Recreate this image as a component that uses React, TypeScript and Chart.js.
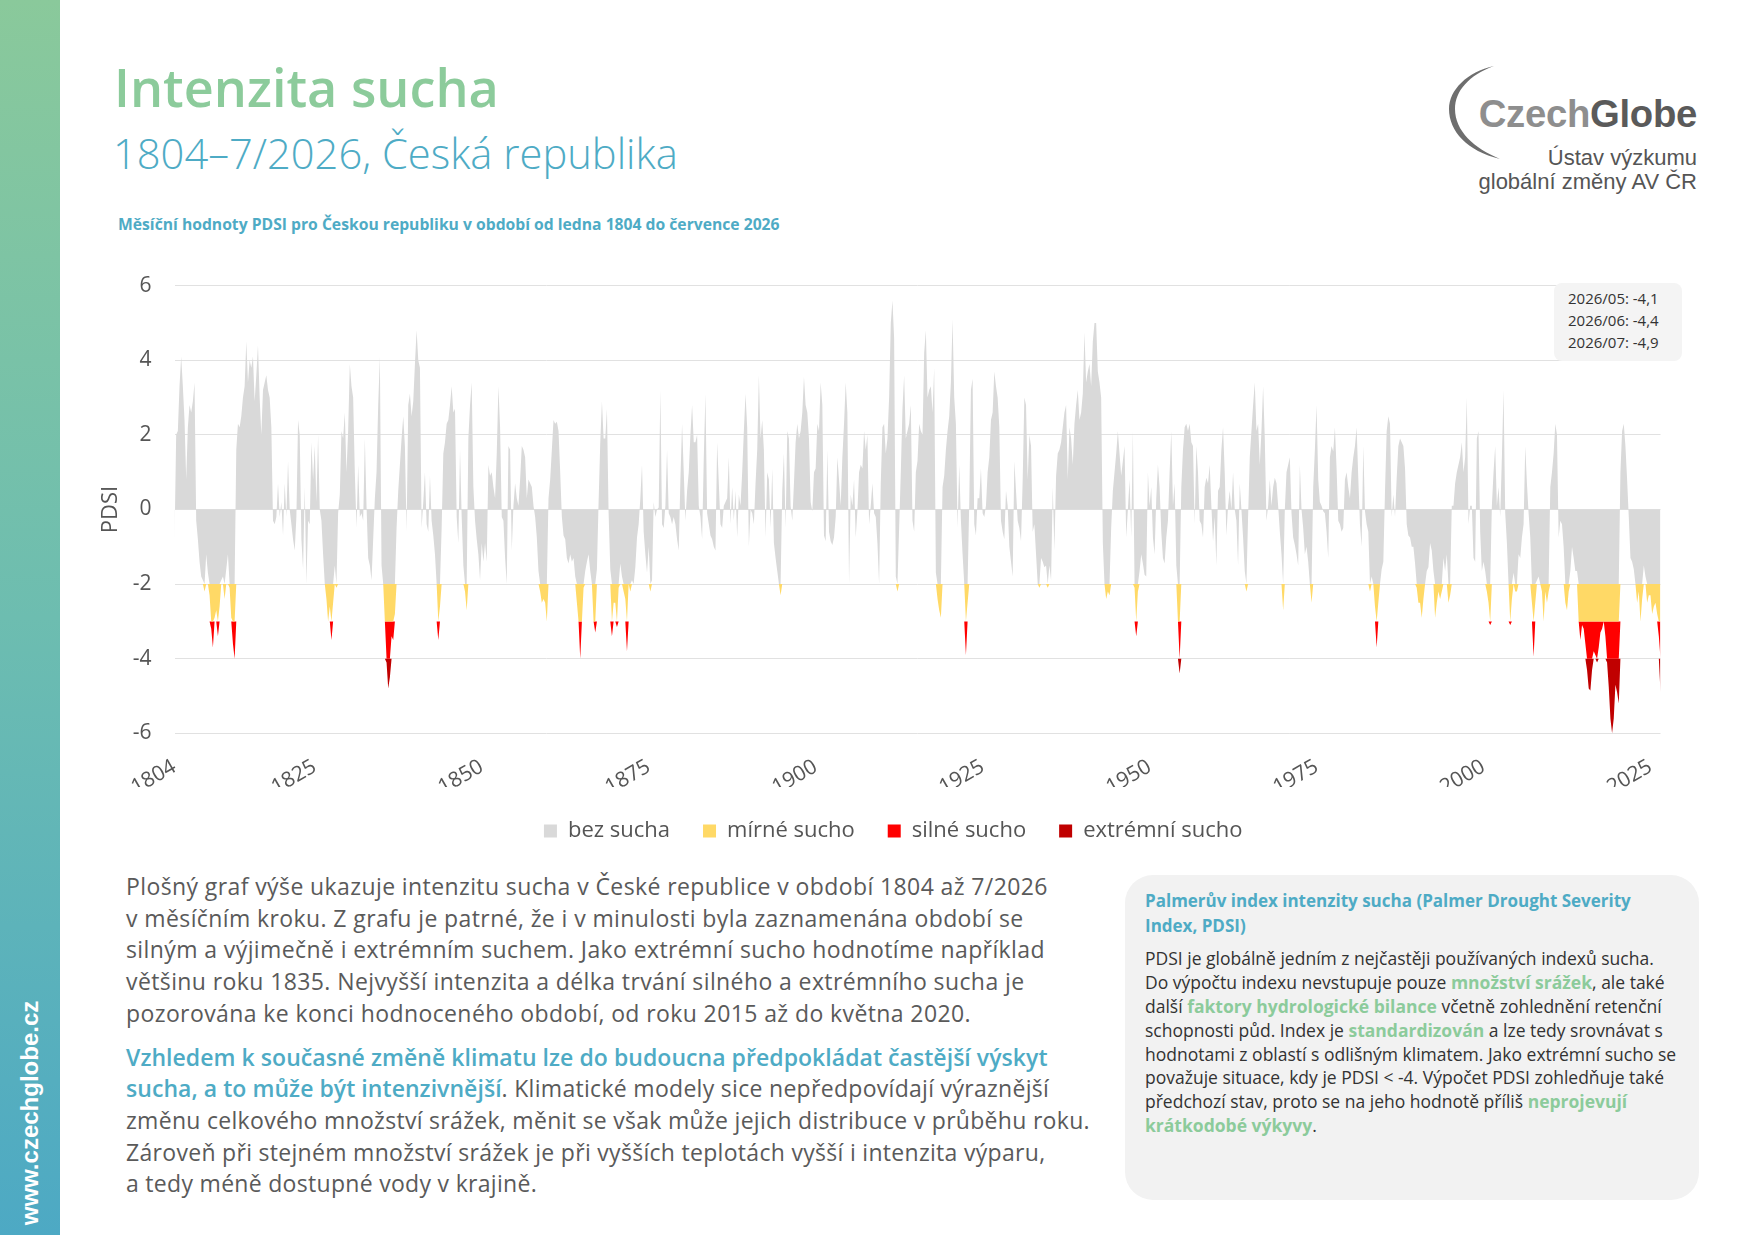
import React, { useEffect, useRef } from 'react';
import { Chart, registerables } from 'chart.js';

Chart.register(...registerables);

// PDSI values, one value per quarter (Jan, Apr, Jul, Oct), Jan 1804 – Jul 2026
const pdsi1804to1869 = [
  -0.9, 2.0, 2.1, 3.3,
  4.1, 3.3, 2.4, 0.8,
  2.2, 2.8, 2.6, 2.9,
  3.4, -0.3, -0.8, -1.4,
  -1.8, -1.9, -2.2, -1.2,
  -1.7, -2.3, -3.2, -3.7,
  -2.9, -2.7, -3.4, -2.6,
  -1.9, -1.8, -2.4, -1.6,
  -1.2, -2.1, -2.9, -3.6,
  -4.0, 1.6, 2.3, 2.2,
  2.5, 3.0, 3.3, 4.5,
  3.4, 4.0, 3.8, 4.1,
  2.9, 3.6, 4.4, 3.0,
  2.0, 3.2, 3.4, 3.6,
  3.2, 3.0, 2.2, -0.3,
  -0.4, -0.2, 0.7, -0.2,
  0.2, -0.7, 0.7, -0.2,
  1.3, 0.0, -0.4, -0.8,
  -1.1, -0.2, 2.4, 2.0,
  -0.8, -1.6, 0.6, -2.0,
  -0.3, -0.4, 1.8, 0.8,
  1.7, 0.2, 2.0, 0.0,
  -0.3, -1.2, -2.0, -2.4,
  -3.0, -2.6, -3.5, -2.5,
  -1.5, -2.1, -0.1, 0.4,
  2.1, 1.9, 2.6, 1.0,
  2.1, 3.9, 3.3, 3.0,
  1.0, -0.5, 1.2, -0.2,
  -0.1, -0.3, 1.9, 0.1,
  -1.3, -1.5, -1.9, -0.8,
  0.3, 1.0, 2.8, 4.1,
  -1.5, -2.0, -3.0, -4.1,
  -4.8, -4.5, -3.4, -3.5,
  -2.8, -0.5, 0.5, 1.2,
  1.9, 2.5, 1.7, -0.6,
  2.8, 3.1, 2.5, 2.9,
  3.9, 4.8, 4.0, 3.8,
  -0.5, 0.2, 1.0, -0.4,
  -0.6, 0.9, -0.3, -0.7,
  -1.2, -2.0, -3.5, -2.6,
  -0.5, 1.5, 1.8, 2.3,
  2.4, 2.8, 3.3, 2.6,
  2.7, -0.2, -0.9, 1.6,
  -0.2, -1.5, -2.2, -2.7,
  1.9, 2.8, 3.4, 0.6,
  -0.3, -0.8, -1.2, -1.9,
  -0.9, -1.4, -0.9, -1.4,
  1.2, 0.9, 1.0, 0.6,
  0.3, 1.5, 3.3, 2.2,
  -0.2, -0.3, -1.3, -2.0,
  1.7, 1.6, -1.1, 0.1,
  0.7, 0.3, 0.1, 0.8,
  1.7, 1.6, 1.4, 0.3,
  0.8, 0.7, 0.6, 0.1,
  -0.2, -0.75, -1.65, -2.2,
  -2.5, -2.4, -2.5, -3.0,
  0.3, 0.8, 1.6, 2.4,
  2.3, 2.35, 2.1, 1.0,
  -0.2, -0.7, -0.8, -1.3,
  -1.45, -1.2, -1.4, -1.3,
  -1.8, -2.5, -3.0, -4.0,
  -3.0, -2.1, -1.65, -1.4,
  -1.2, -1.65, -2.0, -3.0,
  -3.3, -1.6, 0.2, 1.8,
  2.9, 1.9, 1.9, 2.7,
  -0.1, -1.6, -3.4, -2.5,
];

const pdsi1870to1939 = [
  -2.5, -3.15, -2.1, -1.45,
  -1.8, -2.2, -2.4, -3.8,
  -2.0, -2.2, -1.9, -2.0,
  -1.55, -0.75, -0.4, 0.3,
  1.2, -0.6, -1.2, -1.7,
  -1.0, -2.2, -1.9, 0.2,
  -0.2, 0.0, 0.05, 3.2,
  -0.4, -0.5, 0.1, 1.6,
  -0.1, -0.2, -0.4, -0.2,
  -0.4, -0.8, -1.1, 0.8,
  2.3, 1.0, -0.3, 0.5,
  1.0, 2.0, 2.8, 1.8,
  1.8, 2.0, 0.1, -0.2,
  -0.8, 1.4, 3.1, -0.1,
  -0.4, -0.7, -0.8, -1.0,
  -1.1, 1.8, 0.7, -0.4,
  -0.5, 0.1, 0.2, 0.3,
  1.4, -0.4, 0.6, -0.3,
  0.5, -0.75, 0.4, 0.1,
  1.0, 2.1, 3.1, 2.2,
  -1.0, 0.0, -0.1, -0.4,
  0.7, 1.6, 3.6, 1.9,
  2.4, 1.6, -0.75, 1.0,
  0.8, -0.5, 1.1, -0.9,
  -1.3, -1.65, -2.0, -2.3,
  0.5, 1.5, -0.5, 2.1,
  1.9, 0.1, -0.3, 0.7,
  1.8, 2.3, 1.9, 2.1,
  2.6, 3.55, 2.8, 2.6,
  1.9, 0.2, -0.05, 1.0,
  1.1, 2.3, 2.1, 3.4,
  2.8, -0.7, -0.85, 1.6,
  -0.6, -0.85, -0.95, -0.75,
  -0.2, 1.4, 0.8, 0.1,
  1.4, 2.3, 3.4, 2.6,
  -2.0, 0.4, 0.1, 0.8,
  -0.75, -0.05, 1.0, 1.2,
  1.1, 2.1, 1.6, 2.0,
  -0.4, 0.1, 0.7, -0.1,
  -0.2, -0.9, -2.0, 0.7,
  2.2, 2.3, 1.5, 1.9,
  3.0, 5.0, 5.6, 4.6,
  -1.8, -2.2, -0.5, 1.0,
  2.7, 3.6, 1.9, 2.1,
  2.3, 2.8, -0.3, -0.6,
  1.0, 1.3, 2.3, 2.1,
  2.0, 4.2, 4.8, 3.0,
  3.2, 3.3, 2.6, 3.8,
  -1.7, -2.4, -2.7, -2.9,
  0.6, 0.9, 1.6, 2.1,
  2.5, 3.4, 5.1, 3.0,
  2.3, -0.5, 1.2, -0.3,
  -1.2, -2.0, -3.9, -2.5,
  0.2, 3.2, 3.5, -0.4,
  -0.7, 0.3, 0.3, 1.1,
  -0.1, -0.2, 0.1, 1.0,
  1.4, 2.4, 2.6, 3.7,
  3.3, 3.0, 2.2, -0.3,
  -0.6, -0.8, 0.5, 0.1,
  -1.0, -1.4, -1.8, 1.3,
  0.5, -0.3, -0.5, -0.85,
  0.8, 3.0, 2.8, 0.8,
  2.0, 1.7, -0.6, -0.4,
  -1.2, -2.0, -2.1, -1.3,
  -1.4, -1.55, -1.5, -2.1,
  -1.5, -1.9, 0.6, -1.1,
  0.9, 1.5, 1.6, 1.8,
  2.2, 2.6, 2.8, 0.8,
  2.2, 1.9, 1.2, 2.3,
  2.8, 3.2, 2.4, 2.6,
];

const pdsi1940to2026 = [
  3.1, 4.75, 3.4, 3.7,
  3.9, 3.3, 4.5, 5.0,
  5.0, 3.7, 3.4, 3.0,
  -0.9, -2.0, -2.4, -2.2,
  -2.3, -0.5, 0.5, 1.0,
  1.5, 2.1, 1.5, 0.9,
  1.3, 1.7, -0.75, 0.0,
  0.8, -0.75, 2.1, -2.1,
  -3.4, -2.2, -1.65, -1.2,
  -1.45, -1.75, -1.8, 1.0,
  0.1, 0.6, -0.75, -1.2,
  0.3, 1.2, 0.6, -0.6,
  -1.3, -1.45, -0.75, -0.3,
  1.0, 2.1, 0.1, 0.7,
  -1.5, -3.0, -4.4, 0.6,
  1.6, 2.2, 2.3, 2.1,
  2.3, 1.8, 1.7, -0.4,
  1.7, 1.0, -0.3, -0.4,
  -0.75, 0.6, 0.85, 0.7,
  1.2, 0.1, -0.85, -0.2,
  -1.5, 0.5, 0.6, 1.6,
  2.2, 1.0, -0.7, 0.1,
  0.5, 0.0, 1.0, 0.0,
  -0.3, -1.5, 0.7, 0.0,
  -0.75, -1.65, -2.2, -0.2,
  1.4, 2.1, 2.8, 3.4,
  2.1, 2.3, 1.2, 2.1,
  3.3, 1.9, -0.3, 0.1,
  0.8, 0.1, 0.6, 0.85,
  0.7, 0.1, -0.6, -1.2,
  -2.7, 0.0, 1.0, 1.2,
  1.4, -0.1, -0.75, -0.95,
  -1.2, -1.5, 1.2, 0.0,
  -0.5, -1.2, -1.0, -1.4,
  -2.0, -2.5, 0.6, 1.6,
  2.8, 0.8, 0.2, 0.1,
  -0.05, -0.1, -0.6, -1.3,
  1.4, 1.7, 1.55, 2.2,
  1.1, -0.3, -0.4, -0.6,
  -0.5, 0.8, 1.0, 0.6,
  0.3, 1.0, 1.4, 1.7,
  2.2, 0.85, -0.4, -1.0,
  1.7, -0.05, -0.4, -0.6,
  -2.2, -1.8, -2.0, -2.6,
  -3.7, -2.5, -2.0, -1.6,
  -1.4, 0.5, 2.1, 2.5,
  2.3, -0.2, 0.4, -0.2,
  0.85, 1.7, 1.9, 1.8,
  1.7, 1.1, -0.4, -0.7,
  -0.75, -1.0, -1.0, -1.45,
  -2.1, -2.5, -2.5, -2.9,
  -2.4, -2.0, -1.65, -1.55,
  -0.9, -1.1, -1.65, -2.9,
  -2.5, -2.2, -2.4, -2.2,
  -1.3, -1.65, -1.2, -2.5,
  -2.3, 0.1, 0.1, 0.7,
  1.0, 1.2, 1.4, 1.8,
  1.0, 1.4, 3.0, -0.4,
  0.1, 0.1, -1.3, -1.4,
  1.9, 2.1, -0.6, -1.65,
  -1.4, -1.65, -2.2, -2.5,
  -3.1, 0.1, 1.0, 1.7,
  0.1, 0.6, -0.2, 1.4,
  3.2, -0.1, -0.9, -2.0,
  -3.1, -2.4, -1.7, -2.2,
  -2.2, -1.2, -1.3, -0.75,
  -0.4, 1.7, 0.7, -0.1,
  -0.75, -2.5, -3.95, -2.5,
  -1.9, -1.8, -2.0, -2.2,
  -3.0, -2.2, -2.5, -2.2,
  0.6, 1.0, 1.5, 2.3,
  2.0, -0.75, -0.3, -0.4,
  -1.0, -2.5, -2.7, -2.2,
  -1.65, -1.0, -1.3, -1.65,
  -1.65, -3.0, -3.5, -3.1,
  -3.2, -3.6, -4.3, -4.8,
  -4.85, -4.3, -3.8, -3.9,
  -4.1, -3.7, -3.3, -3.2,
  -3.0, -3.4, -4.1, -4.75,
  -5.6, -6.0, -5.6, -4.7,
  -4.9, -5.2, 1.0, 2.1,
  2.3, 1.7, 0.8, -0.2,
  -1.3, -1.4, -1.6, -2.0,
  -2.5, -2.2, -3.0, -2.4,
  -1.5, -1.8, -2.5, -2.3,
  -2.3, -2.8, -2.6, -2.5,
  -2.8, -3.4, -4.9,
];

const START_YEAR = 1804;
const MONTH_STEP = 3;
const LAST_MONTH = (2026 - START_YEAR) * 12 + 6; // July 2026

const xTickYears = [1804, 1825, 1850, 1875, 1900, 1925, 1950, 1975, 2000, 2025];
const yMin = -6;
const yMax = 6;
const yStep = 2;

const classLabels = ['bez sucha', 'mírné sucho', 'silné sucho', 'extrémní sucho'];
const classColors = ['#d9d9d9', '#ffd966', '#ff0000', '#c00000'];
const classThresholds = [-2, -3, -4];

const latestMonths = ['2026/05', '2026/06', '2026/07'];
const latestValues = [-4.1, -4.4, -4.9];

const FONT = "'Open Sans', 'Noto Sans', sans-serif";
const TEAL = '#4eabc5';
const GREEN = '#8ccb9b';
const GREY_TEXT = '#5a5a5a';

// canvas geometry (page px)
const CANVAS_LEFT = 80;
const CANVAS_TOP = 250;
const CANVAS_W = 1620;
const CANVAS_H = 602;
const PAD_LEFT = 46;

function PdsiChart() {
  const canvasRef = useRef<HTMLCanvasElement | null>(null);

  useEffect(() => {
    const values = [...pdsi1804to1869, ...pdsi1870to1939, ...pdsi1940to2026];
    const datasets = classLabels.map((label, k) => {
      const upper = k === 0 ? Infinity : classThresholds[k - 1];
      const lower = k < classThresholds.length ? classThresholds[k] : -Infinity;
      const base = k === 0 ? 0 : classThresholds[k - 1];
      return {
        label,
        data: values.map((v, i) => ({ x: i * MONTH_STEP, y: Math.min(Math.max(v, lower), upper) })),
        backgroundColor: classColors[k],
        borderColor: 'rgba(0,0,0,0)',
        borderWidth: 0,
        pointRadius: 0,
        tension: 0,
        fill: k === 0 ? 'origin' : { value: base },
      };
    });

    Chart.defaults.font.family = FONT;
    Chart.defaults.color = '#555';

    const chart = new Chart(canvasRef.current as HTMLCanvasElement, {
      type: 'line',
      data: { datasets } as any,
      options: {
        animation: false,
        responsive: false,
        events: [],
        layout: { padding: { left: PAD_LEFT, top: 31.0, right: 39.5, bottom: 0 } },
        plugins: {
          legend: {
            position: 'bottom',
            labels: {
              boxWidth: 13,
              boxHeight: 13,
              padding: 33,
              color: '#555',
              font: { size: 22 },
            },
          },
          tooltip: { enabled: false },
        },
        scales: {
          x: {
            type: 'linear',
            min: 0,
            max: LAST_MONTH,
            grid: { display: false, drawTicks: false },
            border: { display: false },
            afterBuildTicks: (axis: any) => {
              axis.ticks = xTickYears.map((y) => ({ value: (y - START_YEAR) * 12 }));
            },
            afterFit: (s: any) => {
              s.height = 53.7;
            },
            ticks: {
              autoSkip: false,
              minRotation: 30,
              maxRotation: 30,
              padding: 21,
              color: '#555',
              font: { size: 21 },
              callback: (v: any) => String(START_YEAR + Math.round(Number(v) / 12)),
            },
          },
          y: {
            min: yMin,
            max: yMax,
            afterFit: (s: any) => {
              s.width = 94.5 - PAD_LEFT;
            },
            grid: { color: '#e1e1e1', drawTicks: false, lineWidth: 1 },
            border: { display: false },
            ticks: { stepSize: yStep, padding: 23, color: '#555', font: { size: 21 } },
            title: {
              display: true,
              text: 'PDSI',
              color: '#555',
              font: { size: 22 },
              padding: { top: 31 - PAD_LEFT - 13.2, bottom: 0 },
            },
          },
        },
      } as any,
    });

    return () => chart.destroy();
  }, []);

  return (
    <canvas
      ref={canvasRef}
      width={CANVAS_W}
      height={CANVAS_H}
      style={{ position: 'absolute', left: CANVAS_LEFT, top: CANVAS_TOP, width: CANVAS_W, height: CANVAS_H }}
    />
  );
}

type Seg = [string, boolean];

const para1: Seg[][] = [
  [['Plošný graf výše ukazuje intenzitu sucha v České republice v období 1804 až 7/2026', false]],
  [['v měsíčním kroku. Z grafu je patrné, že i v minulosti byla zaznamenána období se', false]],
  [['silným a výjimečně i extrémním suchem. Jako extrémní sucho hodnotíme například', false]],
  [['většinu roku 1835. Nejvyšší intenzita a délka trvání silného a extrémního sucha je', false]],
  [['pozorována ke konci hodnoceného období, od roku 2015 až do května 2020.', false]],
];

const para2: Seg[][] = [
  [['Vzhledem k současné změně klimatu lze do budoucna předpokládat častější výskyt', true]],
  [['sucha, a to může být intenzivnější', true], ['. Klimatické modely sice nepředpovídají výraznější', false]],
  [['změnu celkového množství srážek, měnit se však může jejich distribuce v průběhu roku.', false]],
  [['Zároveň při stejném množství srážek je při vyšších teplotách vyšší i intenzita výparu,', false]],
  [['a tedy méně dostupné vody v krajině.', false]],
];

const boxHeading = ['Palmerův index intenzity sucha (Palmer Drought Severity', 'Index, PDSI)'];
const boxLines: Seg[][] = [
  [['PDSI je globálně jedním z nejčastěji používaných indexů sucha.', false]],
  [['Do výpočtu indexu nevstupuje pouze ', false], ['množství srážek', true], [', ale také', false]],
  [['další ', false], ['faktory hydrologické bilance', true], [' včetně zohlednění retenční', false]],
  [['schopnosti půd. Index je ', false], ['standardizován', true], [' a lze tedy srovnávat s', false]],
  [['hodnotami z oblastí s odlišným klimatem. Jako extrémní sucho se', false]],
  [['považuje situace, kdy je PDSI < -4. Výpočet PDSI zohledňuje také', false]],
  [['předchozí stav, proto se na jeho hodnotě příliš ', false], ['neprojevují', true]],
  [['krátkodobé výkyvy', true], ['.', false]],
];

function Lines({
  lines,
  hiColor,
  hiWeight,
  hiSpacing,
  lineHeight,
}: {
  lines: Seg[][];
  hiColor: string;
  hiWeight: number;
  hiSpacing?: number;
  lineHeight: number;
}) {
  return (
    <>
      {lines.map((line, i) => (
        <div key={i} style={{ whiteSpace: 'pre', height: lineHeight, lineHeight: `${lineHeight}px` }}>
          {line.map(([t, hi], j) => (
            <span
              key={j}
              style={hi ? { color: hiColor, fontWeight: hiWeight, ...(hiSpacing !== undefined ? { letterSpacing: hiSpacing } : {}) } : undefined}
            >
              {t}
            </span>
          ))}
        </div>
      ))}
    </>
  );
}

export default function App() {
  const fmt = (v: number) => String(v).replace('.', ',');
  return (
    <div style={{ position: 'relative', width: 1747, height: 1235, overflow: 'hidden', background: '#fff', fontFamily: FONT }}>
      <style>{'html,body{margin:0;padding:0;background:#fff}'}</style>

      {/* left band */}
      <div
        style={{
          position: 'absolute',
          left: 0,
          top: 0,
          width: 60,
          height: 1235,
          background: 'linear-gradient(180deg, #8ac99b 0%, #6dbdb0 50%, #4da9c4 100%)',
        }}
      />
      <div
        style={{
          position: 'absolute',
          left: 30,
          top: 1113,
          transform: 'translate(-50%, -50%) rotate(-90deg)',
          color: '#fff',
          fontFamily: "'Liberation Sans', Arial, sans-serif",
          fontWeight: 700,
          fontSize: 24,
          whiteSpace: 'nowrap',
        }}
      >
        www.czechglobe.cz
      </div>

      {/* titles */}
      <div style={{ position: 'absolute', left: 114, top: 61, fontSize: 52.2, lineHeight: '52px', fontWeight: 600, color: GREEN, whiteSpace: 'nowrap' }}>
        Intenzita sucha
      </div>
      <div style={{ position: 'absolute', left: 113, top: 132, fontSize: 41.7, lineHeight: '41px', fontWeight: 300, color: TEAL, whiteSpace: 'nowrap' }}>
        1804–7/2026, Česká republika
      </div>
      <div style={{ position: 'absolute', left: 118, top: 217, fontSize: 15.7, lineHeight: '15px', fontWeight: 700, color: TEAL, whiteSpace: 'nowrap' }}>
        Měsíční hodnoty PDSI pro Českou republiku v období od ledna 1804 do července 2026
      </div>

      {/* logo */}
      <svg style={{ position: 'absolute', left: 1440, top: 60 }} width={80} height={110} viewBox="0 0 80 110">
        <path d="M 54 6 C 27 12 9 30 9 49 C 9 71 27 91 60 99 C 34 88 15 71 15 49 C 15 31 29 15 54 6 Z" fill="#6e6e6e" />
      </svg>
      <div
        style={{
          position: 'absolute',
          right: 50,
          top: 95,
          fontFamily: "'Liberation Sans', Arial, sans-serif",
          fontWeight: 700,
          fontSize: 38.3,
          lineHeight: '38px',
          whiteSpace: 'nowrap',
          letterSpacing: -0.3,
        }}
      >
        <span style={{ color: '#8e8e8e' }}>Czech</span>
        <span style={{ color: '#5a5a5a' }}>Globe</span>
      </div>
      <div
        style={{
          position: 'absolute',
          right: 50,
          top: 146,
          textAlign: 'right',
          fontFamily: "'Liberation Sans', Arial, sans-serif",
          fontSize: 22,
          lineHeight: '24px',
          color: '#555',
          whiteSpace: 'nowrap',
        }}
      >
        <div>Ústav výzkumu</div>
        <div>globální změny AV ČR</div>
      </div>

      <PdsiChart />

      {/* latest values box */}
      <div
        style={{
          position: 'absolute',
          left: 1554,
          top: 283,
          width: 128,
          height: 78,
          background: '#f4f4f4',
          borderRadius: 8,
        }}
      />
      <div style={{ position: 'absolute', left: 1568, top: 287, fontSize: 15, color: '#333', whiteSpace: 'nowrap' }}>
        {latestMonths.map((m, i) => (
          <div key={m} style={{ height: 22, lineHeight: '22px' }}>
            {`${m}: ${fmt(latestValues[i])}`}
          </div>
        ))}
      </div>

      {/* main text */}
      <div style={{ position: 'absolute', left: 126, top: 871, fontSize: 23, letterSpacing: 0.4, color: GREY_TEXT }}>
        <Lines lines={para1} hiColor={TEAL} hiWeight={600} lineHeight={31.7} />
      </div>
      <div style={{ position: 'absolute', left: 126, top: 1041.5, fontSize: 23, letterSpacing: 0.3, color: GREY_TEXT }}>
        <Lines lines={para2} hiColor={TEAL} hiWeight={600} hiSpacing={0.05} lineHeight={31.7} />
      </div>

      {/* info box */}
      <div
        style={{
          position: 'absolute',
          left: 1125,
          top: 875,
          width: 574,
          height: 325,
          background: '#f2f2f2',
          borderRadius: 28,
        }}
      />
      <div style={{ position: 'absolute', left: 1145, top: 888, fontSize: 17, fontWeight: 700, color: TEAL, whiteSpace: 'nowrap' }}>
        {boxHeading.map((t) => (
          <div key={t} style={{ height: 25, lineHeight: '25px' }}>
            {t}
          </div>
        ))}
      </div>
      <div style={{ position: 'absolute', left: 1145, top: 947, fontSize: 17.5, color: '#333' }}>
        <Lines lines={boxLines} hiColor={GREEN} hiWeight={700} lineHeight={23.9} />
      </div>
    </div>
  );
}
